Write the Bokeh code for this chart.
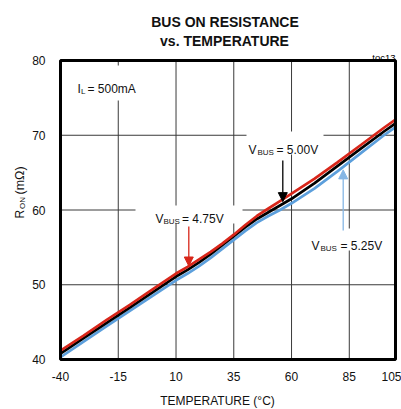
import numpy as np
from bokeh.plotting import figure
from bokeh.models import Label, Arrow, NormalHead, FixedTicker, Range1d, ColumnDataSource
from bokeh.embed import file_html
from bokeh.resources import INLINE

# ---------------- data ----------------
temps = [-40, -30, -20, -10, 0, 10, 15, 20, 25, 30, 35, 40, 45, 50, 55, 60, 70, 80, 90, 100, 105]
r_475 = [41.2, 43.2, 45.3, 47.3, 49.4, 51.5, 52.4, 53.4, 54.4, 55.5, 56.7, 58.0, 59.2, 60.2,
         61.2, 62.2, 64.2, 66.4, 68.7, 71.0, 72.1]
r_500 = [40.8, 42.85, 44.9, 46.95, 49.0, 51.1, 52.0, 53.0, 54.1, 55.3, 56.5, 57.7, 58.8, 59.7,
         60.6, 61.5, 63.6, 65.9, 68.2, 70.5, 71.6]
r_525 = [40.3, 42.4, 44.45, 46.5, 48.55, 50.6, 51.5, 52.5, 53.6, 54.8, 56.0, 57.2, 58.3, 59.2,
         60.0, 60.9, 62.9, 65.2, 67.6, 70.0, 71.1]
x_ticks = [-40, -15, 10, 35, 60, 85, 105]
y_ticks = [40, 50, 60, 70, 80]
x_tick_labels = ["-40", "-15", "10", "35", "60", "85", "105"]
y_tick_labels = ["40", "50", "60", "70", "80"]
x_lim = (-40, 105)
y_lim = (40, 80)

RED = "#d8261a"
BLACK = "#000000"
BLUE = "#5c9fdc"
BLUE_ARROW = "#86b6e4"
GRID = "#3a3a3a"
FONT = "Liberation Sans"

# page layout (pixels): canvas size and where the plot box sits
W, H = 401, 409
FL, FR, FT, FB = 60, 395, 60, 359
sx = (x_lim[1] - x_lim[0]) / (FR - FL)
sy = (y_lim[1] - y_lim[0]) / (FB - FT)


def dx(px):
    return x_lim[0] + (px - FL) * sx


def dy(py):
    return y_lim[0] + (FB - py) * sy


p = figure(width=W, height=H,
           x_range=Range1d(dx(0), dx(W)), y_range=Range1d(dy(H), dy(0)),
           output_backend="svg", toolbar_location=None,
           min_border_left=0, min_border_right=0, min_border_top=0, min_border_bottom=0)
p.title.visible = False
p.background_fill_color = "white"
p.border_fill_color = "white"
p.outline_line_color = None
p.grid.visible = False

p.xaxis.ticker = FixedTicker(ticks=x_ticks)
p.yaxis.ticker = FixedTicker(ticks=y_ticks)
p.xaxis.major_label_overrides = dict(zip(x_ticks, x_tick_labels))
p.yaxis.major_label_overrides = dict(zip(y_ticks, y_tick_labels))
p.xaxis.fixed_location = y_lim[0]
p.yaxis.fixed_location = x_lim[0]
p.xaxis.bounds = x_lim
p.yaxis.bounds = y_lim
for ax in (p.xaxis, p.yaxis):
    ax.axis_line_color = None
    ax.major_tick_line_color = None
    ax.minor_tick_line_color = None
    ax.major_label_text_font = FONT
    ax.major_label_text_font_size = "12px"
    ax.major_label_text_color = "#111111"
p.xaxis.major_label_standoff = 6
p.yaxis.major_label_standoff = 9

# grid lines at the tick values
nx, ny = len(x_ticks), len(y_ticks)
p.segment(x0=x_ticks, x1=x_ticks, y0=[y_lim[0]] * nx, y1=[y_lim[1]] * nx,
          line_color=GRID, line_width=1)
p.segment(x0=[x_lim[0]] * ny, x1=[x_lim[1]] * ny, y0=y_ticks, y1=y_ticks,
          line_color=GRID, line_width=1)

# white masks behind in-plot labels (above grid, below curves)
masks = [(70, 146, 65, 100), (246, 323, 131, 154), (135, 242, 205, 223), (306, 382, 228, 250)]
p.quad(left=[dx(m[0]) for m in masks], right=[dx(m[1]) for m in masks],
       top=[dy(m[2]) for m in masks], bottom=[dy(m[3]) for m in masks],
       fill_color="white", line_color=None)

src = ColumnDataSource(dict(t=temps, a=r_475, b=r_500, c=r_525))
p.line("t", "c", source=src, line_color=BLUE, line_width=2.7)
p.line("t", "b", source=src, line_color=BLACK, line_width=2.7)
p.line("t", "a", source=src, line_color=RED, line_width=2.7)

# plot box border
p.quad(left=[x_lim[0]], right=[x_lim[1]], bottom=[y_lim[0]], top=[y_lim[1]],
       fill_color=None, line_color="black", line_width=3)


def lab(text, px, py, size=12, align="left", bold=False, color="#111111", angle=0):
    p.add_layout(Label(x=dx(px), y=dy(py), text=text, text_font=FONT,
                       text_font_size=f"{size}px", text_align=align,
                       text_baseline="alphabetic", text_color=color, angle=angle,
                       text_font_style="bold" if bold else "normal"))


# titles
lab("BUS ON RESISTANCE", 224.5, 21.5, size=14, align="center", bold=True)
lab("vs. TEMPERATURE", 224, 40, size=14, align="center", bold=True)
lab("toc13", 395, 57, size=9.5, align="right", color="#000000")

# axis titles
lab("TEMPERATURE (°C)", 217, 400, size=12, align="center")
lab("R", 19, 218, size=12, angle=np.pi / 2)
lab("ON", 21.5, 208.5, size=8, angle=np.pi / 2)
lab("(mΩ)", 19, 194, size=12.5, angle=np.pi / 2)

# in-plot annotations
lab("I", 77, 88)
lab("L", 80.5, 91, size=8)
lab("= 500mA", 87, 88)

lab("V", 248, 149)
lab("BUS", 257, 151.5, size=8)
lab("= 5.00V", 276, 149)

lab("V", 155, 218)
lab("BUS", 163, 220.5, size=8)
lab("= 4.75V", 181.5, 218)

lab("V", 311, 245)
lab("BUS", 320, 247.5, size=8)
lab("= 5.25V", 340, 245)


def arrow(t, ystart, yend, color):
    p.add_layout(Arrow(x_start=t, y_start=ystart, x_end=t, y_end=yend,
                       line_color=color, line_width=1.3,
                       end=NormalHead(size=9, fill_color=color, line_color=color)))


t_red = dx(188.3)
arrow(t_red, dy(226), float(np.interp(t_red, temps, r_475)), RED)
t_blk = dx(282.3)
arrow(t_blk, dy(160), float(np.interp(t_blk, temps, r_500)) + 0.3, BLACK)
t_blu = dx(342.7)
arrow(t_blu, dy(230), float(np.interp(t_blu, temps, r_525)) - 0.4, BLUE_ARROW)

open("out.html", "w").write(file_html(p, INLINE))
